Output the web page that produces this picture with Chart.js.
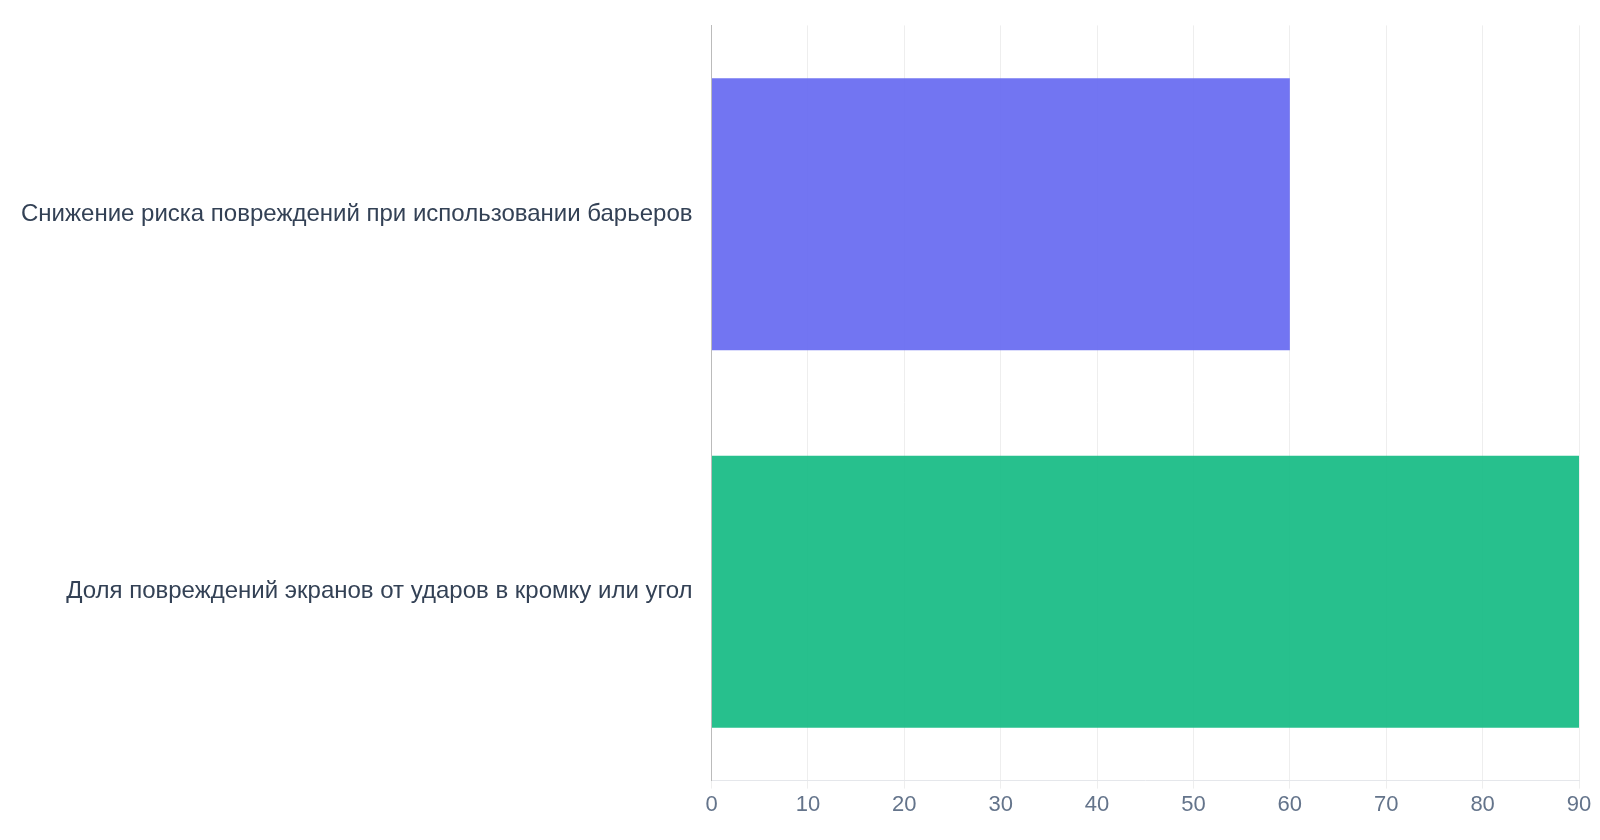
<!DOCTYPE html>
<html><head><meta charset="utf-8">
<script src="https://cdn.jsdelivr.net/npm/chart.js@4"></script>
<style>html,body{margin:0;padding:0;background:#fff}#w{width:1600px;height:840px}</style>
</head><body><div id="w"><canvas id="c"></canvas></div>
<script>
const categories = ["Снижение риска повреждений при использовании барьеров", "Доля повреждений экранов от ударов в кромку или угол"];
const values = [60, 90];
const colors = ["rgba(99,102,241,0.9)", "rgba(16,185,129,0.9)"];
const ticksX = [0,10,20,30,40,50,60,70,80,90];
new Chart(document.getElementById('c'), {
  type: 'bar',
  data: { labels: categories, datasets: [{ data: values, backgroundColor: colors, borderWidth: 0 }] },
  options: {
    indexAxis: 'y', responsive: true, maintainAspectRatio: false, animation: false,
    layout: { padding: { top: 0, right: 21, left: 10, bottom: 19 } },
    plugins: { legend: { display: false }, tooltip: { enabled: false } },
    scales: {
      x: { min: 0, max: 90, afterBuildTicks: a => { a.ticks = ticksX.map(v => ({value: v})); },
           grid: { color: '#eeeeee' }, border: { color: '#e5e7eb' },
           ticks: { color: '#64748b', font: { family: 'Liberation Sans', size: 22 } } },
      y: { grid: { display: false }, border: { color: '#bbbbbb' },
           ticks: { color: '#334155', font: { family: 'Liberation Sans', size: 24 }, padding: 11 } }
    }
  }
});
</script></body></html>
